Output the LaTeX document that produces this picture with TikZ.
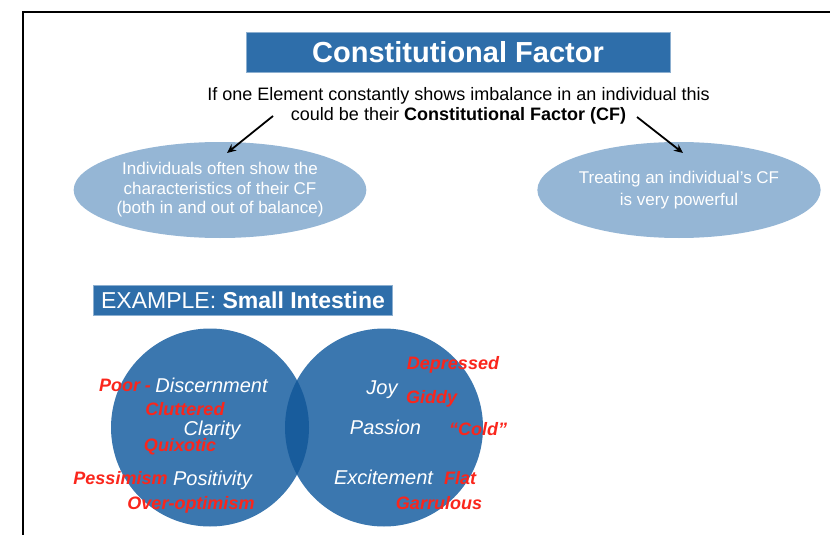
\documentclass[tikz,border=0pt]{standalone}
\usepackage{fontspec}
\setmainfont{Liberation Sans}
\usetikzlibrary{shapes.geometric,arrows.meta}
\definecolor{titleblue}{RGB}{46,110,170}
\definecolor{ellblue}{RGB}{149,182,213}
\definecolor{circblue}{RGB}{59,119,175}
\definecolor{lensblue}{RGB}{24,92,156}
\definecolor{redtxt}{RGB}{250,38,28}
\tikzset{
  bluebox/.style={fill=titleblue, draw=titleblue!55!white, line width=0.6pt, text=white, inner sep=0pt},
  bubble/.style={ellipse, fill=ellblue, text=white, minimum width=276pt, minimum height=96pt, inner sep=0pt, align=center},
  ring/.style={circle, fill=circblue, minimum size=198pt, inner sep=0pt},
  whitetxt/.style={anchor=base, text=white, inner sep=0pt, font=\fontsize{20}{24}\selectfont\itshape},
  redword/.style={anchor=base, text=redtxt, inner sep=0pt, font=\fontsize{18}{22}\selectfont\bfseries\itshape},
  plain/.style={anchor=base, inner sep=0pt, font=\fontsize{18}{21}\selectfont},
  pointer/.style={line width=1.8pt, -{Stealth[length=9pt,width=8pt]}}
}
\begin{document}
\begin{tikzpicture}[x=1pt,y=-1pt]
\useasboundingbox (0,0) rectangle (830,535);
% frame
\coordinate (f1) at (23,535);
\coordinate (f2) at (23,12.5);
\coordinate (f3) at (830,12.5);
\draw[line width=2pt] (f1) -- (f2) -- (f3);
% title
\node[bluebox, minimum width=424pt, minimum height=40pt] (title) at (458,52) {};
\node[anchor=base, text=white, inner sep=0pt, font=\fontsize{29}{34}\selectfont\bfseries] (titletxt) at (458,62.5) {Constitutional Factor};
% subtitle
\node[plain] (sub1) at (458.5,100) {If one Element constantly shows imbalance in an individual this};
\node[plain] (sub2) at (458.5,120.5) {could be their \textbf{Constitutional Factor (CF)}};
% ellipses
\node[bubble, font=\fontsize{17}{19.5}\selectfont] (left) at (220,190) {Individuals often show the\\characteristics of their CF\\(both in and out of balance)};
\node[bubble, font=\fontsize{17}{22.5}\selectfont] (right) at (679,190) {Treating an individual's CF\\is very powerful};
% arrows
\coordinate (a1s) at (273,116);
\coordinate (a1e) at (227,153);
\coordinate (a2s) at (637,117);
\coordinate (a2e) at (683,153);
\draw[pointer] (a1s) -- (a1e);
\draw[pointer] (a2s) -- (a2e);
% example box
\node[bluebox, minimum width=299pt, minimum height=30pt] (ex) at (242.5,300) {};
\node[anchor=base, text=white, inner sep=0pt, font=\fontsize{23}{27}\selectfont] (extxt) at (243,308) {EXAMPLE: \textbf{Small Intestine}};
% circles
\node[ring] (c1) at (210,427.5) {};
\node[ring] (c2) at (384,427.5) {};
\begin{scope}
  \clip (c1.center) circle (99pt);
  \fill[lensblue] (c2.center) circle (99pt);
\end{scope}
% white words
\node[whitetxt] (w1) at (211.5,392) {Discernment};
\node[whitetxt] (w2) at (212,435) {Clarity};
\node[whitetxt] (w3) at (212.5,485) {Positivity};
\node[whitetxt] (w4) at (382,394) {Joy};
\node[whitetxt] (w5) at (385.5,434) {Passion};
\node[whitetxt] (w6) at (383.5,484) {Excitement};
% red words
\node[redword] (r1) at (125,391.5) {Poor -};
\node[redword] (r2) at (185,415.5) {Cluttered};
\node[redword] (r3) at (180,451.5) {Quixotic};
\node[redword] (r4) at (120.5,484.5) {Pessimism};
\node[redword] (r5) at (191,509.5) {Over-optimism};
\node[redword] (r6) at (453,369.5) {Depressed};
\node[redword] (r7) at (431.5,403.5) {Giddy};
\node[redword] (r8) at (478,435.5) {“Cold”};
\node[redword] (r9) at (460,484.5) {Flat};
\node[redword] (r10) at (439,509.5) {Garrulous};
\end{tikzpicture}
\end{document}
